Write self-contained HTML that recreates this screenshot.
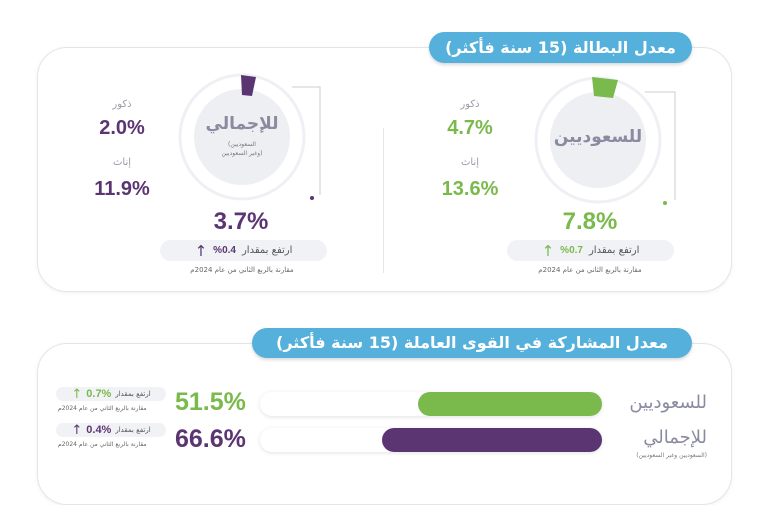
<!DOCTYPE html>
<html><head><meta charset="utf-8"><style>
body{margin:0;width:780px;height:470px;background:#fff;position:relative;overflow:hidden;font-family:"DejaVu Sans","Liberation Sans",sans-serif}
.a{position:absolute}
.box{position:absolute;border:1.5px solid #e3e5ea;border-radius:30px;box-shadow:0 1px 4px rgba(0,0,0,.06)}
.pill{position:absolute;background:#55b1db;border-radius:18px;color:#fff;font-weight:bold;font-size:16px;text-align:center;box-shadow:0 2px 3px rgba(0,0,0,.15);direction:rtl}
.c{transform:translateX(-50%);white-space:nowrap;text-align:center}
.g{color:#7ab94c}.p{color:#5b3572}
.n{font-family:"Liberation Sans",sans-serif;font-weight:bold}
.big{font-size:20px}
.lbl{color:#9a9aa8;font-size:10px}
.gp{position:absolute;background:#f1f2f5;border-radius:12px;direction:rtl;font-size:10px;color:#555;display:flex;align-items:center;justify-content:center;gap:6px}
.note{font-size:7px;color:#666;direction:rtl;white-space:nowrap}
</style></head><body>
<div class="box" style="left:37px;top:47px;width:693px;height:243px"></div>
<div class="pill" style="left:429px;top:32px;width:263px;height:31px;line-height:31px">معدل البطالة (15 سنة فأكثر)</div>
<div class="a" style="left:383px;top:128px;width:1px;height:145px;background:#e6e7ea"></div>

<svg class="a" style="left:0;top:0" width="780" height="300">
<circle cx="598" cy="140" r="62" fill="none" stroke="#eef0f4" stroke-width="3"/>
<circle cx="598" cy="140" r="48" fill="#eeeff3"/>
<path d="M592 77 L618 80 L613 98 L594 96 Z" fill="#7ab94c"/>
<polyline points="645,92 675,92 675,200" fill="none" stroke="#ccc" stroke-width="1"/>
<circle cx="665" cy="203" r="2" fill="#7ab94c"/>
<circle cx="242" cy="137" r="62" fill="none" stroke="#eef0f4" stroke-width="3"/>
<circle cx="242" cy="137" r="48" fill="#eeeff3"/>
<path d="M241 75 L256 77 L252 96 L242 95 Z" fill="#5b3572"/>
<polyline points="292,87 320,87 320,195" fill="none" stroke="#ccc" stroke-width="1"/>
<circle cx="312" cy="198" r="2" fill="#5b3572"/>
</svg>

<div class="a c" style="left:598px;top:127px;font-size:17px;color:#8a8aa0;font-weight:bold">للسعوديين</div>
<div class="a c" style="left:242px;top:114px;font-size:17px;color:#8a8aa0;font-weight:bold">للإجمالي</div>
<div class="a c" style="left:242px;top:140px;font-size:6px;color:#777;line-height:9px">(السعوديين<br>وغير السعوديين)</div>

<div class="a c lbl" style="left:470px;top:99px">ذكور</div>
<div class="a c big g n" style="left:470px;top:117px">4.7%</div>
<div class="a c lbl" style="left:470px;top:157px">إناث</div>
<div class="a c big g n" style="left:470px;top:178px">13.6%</div>
<div class="a c g n" style="left:590px;top:208px;font-size:24px">7.8%</div>
<div class="gp" style="left:507px;top:240px;width:167px;height:21px">ارتفع بمقدار <b class="g n">%0.7</b> <span class="g" style="font-size:15px">↑</span></div>
<div class="a c note" style="left:590px;top:266px">مقارنة بالربع الثاني من عام 2024م</div>

<div class="a c lbl" style="left:122px;top:99px">ذكور</div>
<div class="a c big p n" style="left:122px;top:117px">2.0%</div>
<div class="a c lbl" style="left:122px;top:157px">إناث</div>
<div class="a c big p n" style="left:122px;top:178px">11.9%</div>
<div class="a c p n" style="left:241px;top:208px;font-size:24px">3.7%</div>
<div class="gp" style="left:160px;top:240px;width:167px;height:21px">ارتفع بمقدار <b class="p n">%0.4</b> <span class="p" style="font-size:15px">↑</span></div>
<div class="a c note" style="left:242px;top:266px">مقارنة بالربع الثاني من عام 2024م</div>

<div class="box" style="left:37px;top:343px;width:693px;height:160px"></div>
<div class="pill" style="left:252px;top:328px;width:440px;height:30px;line-height:30px">معدل المشاركة في القوى العاملة (15 سنة فأكثر)</div>

<div class="a" style="left:260px;top:392px;width:342px;height:24px;border-radius:12px;background:#fff;box-shadow:0 1px 4px rgba(0,0,0,.12)"></div>
<div class="a" style="left:418px;top:392px;width:184px;height:24px;border-radius:12px;background:#7ab94c"></div>
<div class="a" style="left:260px;top:428px;width:342px;height:24px;border-radius:12px;background:#fff;box-shadow:0 1px 4px rgba(0,0,0,.12)"></div>
<div class="a" style="left:382px;top:428px;width:220px;height:24px;border-radius:12px;background:#5b3572"></div>

<div class="a" style="right:73px;top:392px;font-size:18px;color:#8a8aa0">للسعوديين</div>
<div class="a" style="right:73px;top:427px;font-size:18px;color:#8a8aa0">للإجمالي</div>
<div class="a" style="right:73px;top:452px;font-size:6px;color:#777">(السعوديين وغير السعوديين)</div>

<div class="a g n" style="left:175px;top:388px;font-size:25px">51.5%</div>
<div class="a p n" style="left:175px;top:425px;font-size:25px">66.6%</div>

<div class="gp" style="left:56px;top:387px;width:110px;height:14px;font-size:7px;gap:4px">ارتفع بمقدار <b class="g n" style="font-size:11px">0.7%</b><span class="g" style="font-size:13px">↑</span></div>
<div class="a note" style="left:58px;top:405px;font-size:6px">مقارنة بالربع الثاني من عام 2024م</div>
<div class="gp" style="left:56px;top:423px;width:110px;height:14px;font-size:7px;gap:4px">ارتفع بمقدار <b class="p n" style="font-size:11px">0.4%</b><span class="p" style="font-size:13px">↑</span></div>
<div class="a note" style="left:58px;top:441px;font-size:6px">مقارنة بالربع الثاني من عام 2024م</div>
</body></html>
